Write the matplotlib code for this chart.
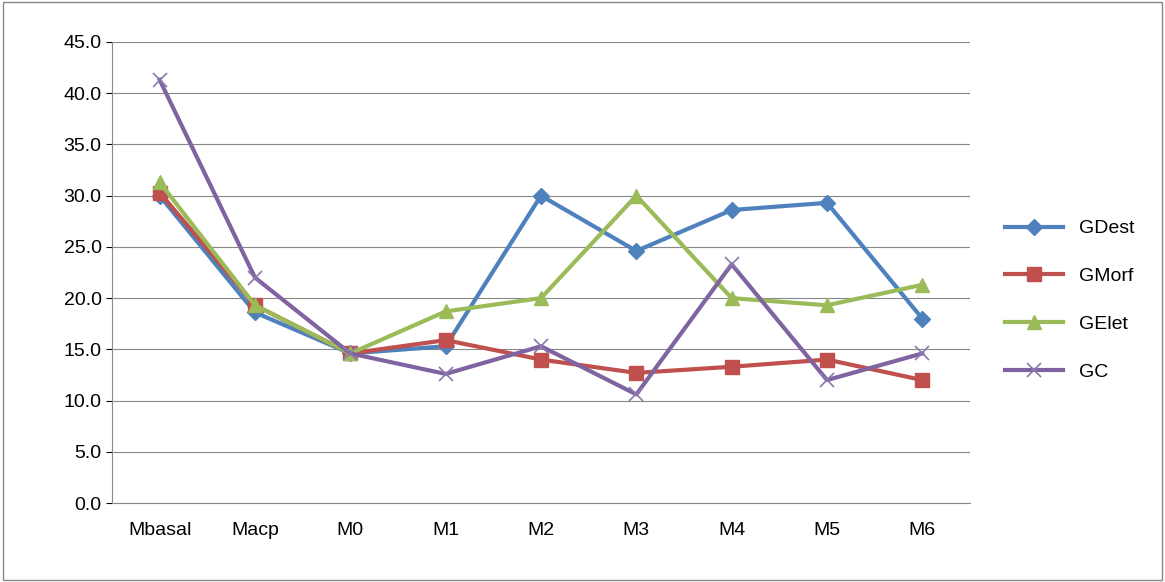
import matplotlib.pyplot as plt
from matplotlib.patches import Rectangle

categories = ["Mbasal", "Macp", "M0", "M1", "M2", "M3", "M4", "M5", "M6"]
gdest = [30.0, 18.6, 14.6, 15.3, 30.0, 24.6, 28.6, 29.3, 18.0]
gmorf = [30.3, 19.3, 14.6, 15.9, 14.0, 12.7, 13.3, 14.0, 12.0]
gelet = [31.3, 19.3, 14.6, 18.7, 20.0, 30.0, 20.0, 19.3, 21.3]
gc = [41.3, 22.0, 14.6, 12.6, 15.3, 10.6, 23.3, 12.0, 14.6]

plt.rcParams['font.family'] = ['Liberation Sans', 'DejaVu Sans']
fig = plt.figure(figsize=(11.65, 5.82), dpi=100)
ax = fig.add_axes([112/1165, 1-503/582, (970-112)/1165, (503-42)/582])
fig.patches.append(Rectangle((0.003, 0.003), 0.994, 0.994, transform=fig.transFigure,
                             fill=False, edgecolor='#888888', linewidth=1))

x = range(len(categories))
ax.plot(x, gdest, color='#4F81BD', lw=3, marker='D', ms=8, label='GDest')
ax.plot(x, gmorf, color='#C0504D', lw=3, marker='s', ms=10, label='GMorf')
ax.plot(x, gelet, color='#9BBB59', lw=3, marker='^', ms=10, label='GElet')
ax.plot(x, gc, color='#8064A2', lw=3, marker='x', ms=10, mew=1.2, markeredgecolor='#8a78b0', label='GC')

ax.set_ylim(0, 45)
ax.set_yticks([i * 5 for i in range(10)])
ax.set_yticklabels([f"{i*5:.1f}" for i in range(10)], fontsize=14)
ax.set_xlim(-0.5, len(categories) - 0.5)
ax.set_xticks(list(x))
ax.set_xticklabels(categories, fontsize=14)
ax.tick_params(axis='x', length=0, pad=14)
ax.tick_params(axis='y', length=4, direction='out')
ax.yaxis.grid(True, color='#888888', lw=0.8)
ax.set_axisbelow(True)
for s in ['top', 'right']:
    ax.spines[s].set_visible(False)
ax.spines['left'].set_color('#888888')
ax.spines['bottom'].set_color('#888888')

ax.legend(loc='center left', bbox_to_anchor=(1.02, 0.44), frameon=False,
          fontsize=14, labelspacing=1.55, handlelength=3)
fig.savefig('out.png')
